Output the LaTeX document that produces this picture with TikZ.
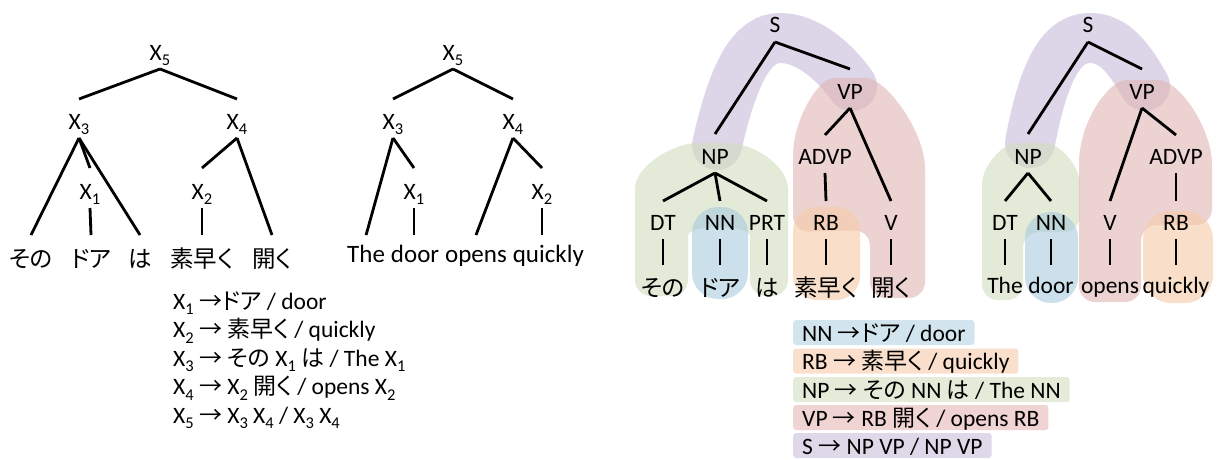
\documentclass[tikz,border=0pt]{standalone}
\usepackage{fontspec}
\setmainfont{Carlito}
\newfontfamily\jp[RawFeature=+palt]{Noto Sans CJK JP}
\usetikzlibrary{calc}

% region colours (used half transparent) and rule box colours
\definecolor{pu}{RGB}{198,187,217}
\definecolor{gr}{RGB}{208,220,190}
\definecolor{bl}{RGB}{168,203,220}
\definecolor{or}{RGB}{245,202,165}
\definecolor{rd}{RGB}{225,180,180}
\definecolor{rbl}{RGB}{210,229,238}
\definecolor{ror}{RGB}{250,224,204}
\definecolor{rgr}{RGB}{228,235,216}
\definecolor{rrd}{RGB}{240,211,211}
\definecolor{rpu}{RGB}{222,216,232}

\newcommand\Xs[1]{X\raisebox{-0.25em}{\scalebox{0.7}{#1}}}
\newcommand\J[1]{{\fontsize{23}{25}\selectfont\jp #1}}
% tree branch from the foot of a parent to just above a child
\newcommand\br[3]{\draw[branch] ([yshift=-9pt]#1.base) -- ([yshift=#3]#2.base);}
% vertical branch straight below the parent
\newcommand\vbr[3]{\draw[branch] ([yshift=-9pt]#1.base) -- ($(#1.base |- #2.base)+(0,-#3)$);}

\tikzset{
  branch/.style={line width=2.8pt},
  lab/.style={inner sep=0pt, anchor=base, font=\fontsize{23.5}{26}\selectfont},
  jw/.style={inner sep=0pt, anchor=base, font=\fontsize{23.5}{26}\selectfont\jp},
  ew/.style={inner sep=0pt, anchor=base, font=\fontsize{23.5}{26}\selectfont},
  mw/.style={inner sep=0pt, anchor=base west, font=\fontsize{25}{28}\selectfont},
  blob/.style={fill opacity=0.6},
  band/.style={draw=pu, draw opacity=0.6, line width=50pt, line cap=round},
  rulebox/.style={anchor=base west, inner xsep=9pt, inner ysep=3pt, text height=18pt,
    text depth=1pt, rounded corners=3pt, font=\fontsize{23.5}{26}\selectfont},
  ruletext/.style={anchor=base west, inner sep=0pt, text height=17pt, text depth=4pt,
    font=\fontsize{23.5}{26}\selectfont},
}

\begin{document}
\begin{tikzpicture}[x=1pt,y=-1pt]
\useasboundingbox (0,0) rectangle (1220,460);

% ---------- coloured constituents, Japanese tree ----------
\draw[band] (717,145) .. controls (735,65) and (755,38) .. (780,38)
  .. controls (808,38) and (835,62) .. (852,86);
\fill[gr, blob, rounded corners=16pt] (635,296) -- (635,205)
  .. controls (635,165) and (675,143) .. (713,143)
  .. controls (752,143) and (788,165) .. (788,205) -- (788,296) -- (750,296) -- (750,252)
  .. controls (750,224) and (688,224) .. (688,252) -- (688,296) -- cycle;
\fill[rd, blob, rounded corners=16pt] (793,232) -- (793,172)
  .. controls (793,120) and (818,78) .. (850,78)
  .. controls (885,78) and (925,130) .. (925,185) -- (925,298) -- (870,298) -- (870,230) -- cycle;
\fill[bl, blob, rounded corners=26pt] (692,207) rectangle (748,299);
\fill[or, blob, rounded corners=24pt] (793,207) rectangle (860,300);

% ---------- coloured constituents, English tree ----------
\draw[band] (1030,143) .. controls (1045,62) and (1065,38) .. (1090,38)
  .. controls (1115,38) and (1130,60) .. (1145,86);
\fill[gr, blob, rounded corners=16pt] (982,300) -- (982,200)
  .. controls (982,165) and (1005,143) .. (1030,143)
  .. controls (1058,143) and (1080,165) .. (1080,200) -- (1080,232) -- (1023,232) -- (1023,300) -- cycle;
\fill[rd, blob, rounded corners=16pt] (1079,302) -- (1079,180)
  .. controls (1079,120) and (1110,80) .. (1142,80)
  .. controls (1180,80) and (1212,130) .. (1212,180) -- (1212,225) -- (1141,225) -- (1141,302) -- cycle;
\fill[bl, blob, rounded corners=26pt] (1025,212) rectangle (1078,303);
\fill[or, blob, rounded corners=28pt] (1143,211) rectangle (1213,303);

% ---------- left tree (Japanese, X labels) ----------
\node[lab] (lX5) at (160,60) {\Xs{5}};
\node[lab] (lX3) at (79,129) {\Xs{3}};
\node[lab] (lX4) at (237,129) {\Xs{4}};
\node[lab] (lX1) at (90,199) {\Xs{1}};
\node[lab] (lX2) at (202,199) {\Xs{2}};
\node[jw] (lw1) at (31,267) {その};
\node[jw] (lw2) at (91,267) {ドア};
\node[jw] (lw3) at (140,267) {は};
\node[jw] (lw4) at (202,267) {素早く};
\node[jw] (lw5) at (272,267) {開く};
\br{lX5}{lX3}{30pt}
\br{lX5}{lX4}{30pt}
\br{lX3}{lw1}{32pt}
\br{lX3}{lX1}{31pt}
\br{lX3}{lw3}{32pt}
\br{lX1}{lw2}{32pt}
\br{lX4}{lX2}{31pt}
\br{lX4}{lw5}{32pt}
\br{lX2}{lw4}{32pt}

% ---------- middle tree (English, X labels) ----------
\node[lab] (mX5) at (453,60) {\Xs{5}};
\node[lab] (mX3) at (393,129) {\Xs{3}};
\node[lab] (mX4) at (513,129) {\Xs{4}};
\node[lab] (mX1) at (414,199) {\Xs{1}};
\node[lab] (mX2) at (542,199) {\Xs{2}};
\node[mw] (mw1) at (347,262) {The};
\node[mw] (mw2) at ([xshift=5.6pt]mw1.base east) {door};
\node[mw] (mw3) at ([xshift=5.6pt]mw2.base east) {opens};
\node[mw] (mw4) at ([xshift=5.6pt]mw3.base east) {quickly};
\br{mX5}{mX3}{30pt}
\br{mX5}{mX4}{30pt}
\br{mX3}{mw1}{27pt}
\br{mX3}{mX1}{31pt}
\vbr{mX1}{mw2}{27}
\br{mX4}{mw3}{27pt}
\br{mX4}{mX2}{31pt}
\vbr{mX2}{mw4}{27}

% ---------- Japanese syntax tree ----------
\node[lab] (aS) at (775,33) {S};
\node[lab] (aVP) at (850,99) {VP};
\node[lab] (aNP) at (715,164) {NP};
\node[lab] (aADVP) at (825,164) {ADVP};
\node[lab] (aDT) at (663,230) {DT};
\node[lab] (aNN) at (720,230) {NN};
\node[lab] (aPRT) at (767,230) {PRT};
\node[lab] (aRB) at (826,230) {RB};
\node[lab] (aV) at (891,230) {V};
\node[jw] (aw1) at (663,296) {その};
\node[jw] (aw2) at (720,296) {ドア};
\node[jw] (aw3) at (767,296) {は};
\node[jw] (aw4) at (826,296) {素早く};
\node[jw] (aw5) at (891,296) {開く};
\br{aS}{aNP}{30pt}
\br{aS}{aVP}{30pt}
\br{aNP}{aDT}{29pt}
\br{aNP}{aNN}{29pt}
\br{aNP}{aPRT}{29pt}
\br{aVP}{aADVP}{29pt}
\br{aVP}{aV}{29pt}
\br{aADVP}{aRB}{29pt}
\br{aDT}{aw1}{31pt}
\br{aNN}{aw2}{31pt}
\br{aPRT}{aw3}{31pt}
\br{aRB}{aw4}{31pt}
\br{aV}{aw5}{31pt}

% ---------- English syntax tree ----------
\node[lab] (bS) at (1088,33) {S};
\node[lab] (bVP) at (1142,99) {VP};
\node[lab] (bNP) at (1028,164) {NP};
\node[lab] (bADVP) at (1176,164) {ADVP};
\node[lab] (bDT) at (1005,230) {DT};
\node[lab] (bNN) at (1051,230) {NN};
\node[lab] (bV) at (1110,230) {V};
\node[lab] (bRB) at (1176,230) {RB};
\node[ew] (bw1) at (1005,293) {The};
\node[ew] (bw2) at (1051,293) {door};
\node[ew] (bw3) at (1110,293) {opens};
\node[ew] (bw4) at (1176,293) {quickly};
\br{bS}{bNP}{30pt}
\br{bS}{bVP}{30pt}
\br{bNP}{bDT}{29pt}
\br{bNP}{bNN}{29pt}
\br{bVP}{bV}{29pt}
\br{bVP}{bADVP}{29pt}
\br{bADVP}{bRB}{29pt}
\br{bDT}{bw1}{28pt}
\br{bNN}{bw2}{28pt}
\br{bV}{bw3}{28pt}
\br{bRB}{bw4}{28pt}

% ---------- rules with X labels ----------
\node[ruletext] (lr1) at (173,309) {\Xs{1} \J{→ドア} / door};
\node[ruletext] (lr2) at (173,337.5) {\Xs{2} \J{→ 素早く} / quickly};
\node[ruletext] (lr3) at (173,366) {\Xs{3} \J{→ その} \Xs{1} \J{は} / The \Xs{1}};
\node[ruletext] (lr4) at (173,394.5) {\Xs{4} \J{→} \Xs{2} \J{開く} / opens \Xs{2}};
\node[ruletext] (lr5) at (173,423) {\Xs{5} \J{→} \Xs{3} \Xs{4} / \Xs{3} \Xs{4}};

% ---------- rules with syntactic labels ----------
\node[rulebox, fill=rbl] (rr1) at (793,341) {NN \J{→ドア} / door};
\node[rulebox, fill=ror] (rr2) at (793,369.5) {RB \J{→ 素早く} / quickly};
\node[rulebox, fill=rgr] (rr3) at (793,398) {NP \J{→ その} NN \J{は} / The NN};
\node[rulebox, fill=rrd] (rr4) at (793,426) {VP \J{→} RB \J{開く} / opens RB};
\node[rulebox, fill=rpu] (rr5) at (793,454) {S \J{→} NP VP / NP VP};
\end{tikzpicture}
\end{document}
